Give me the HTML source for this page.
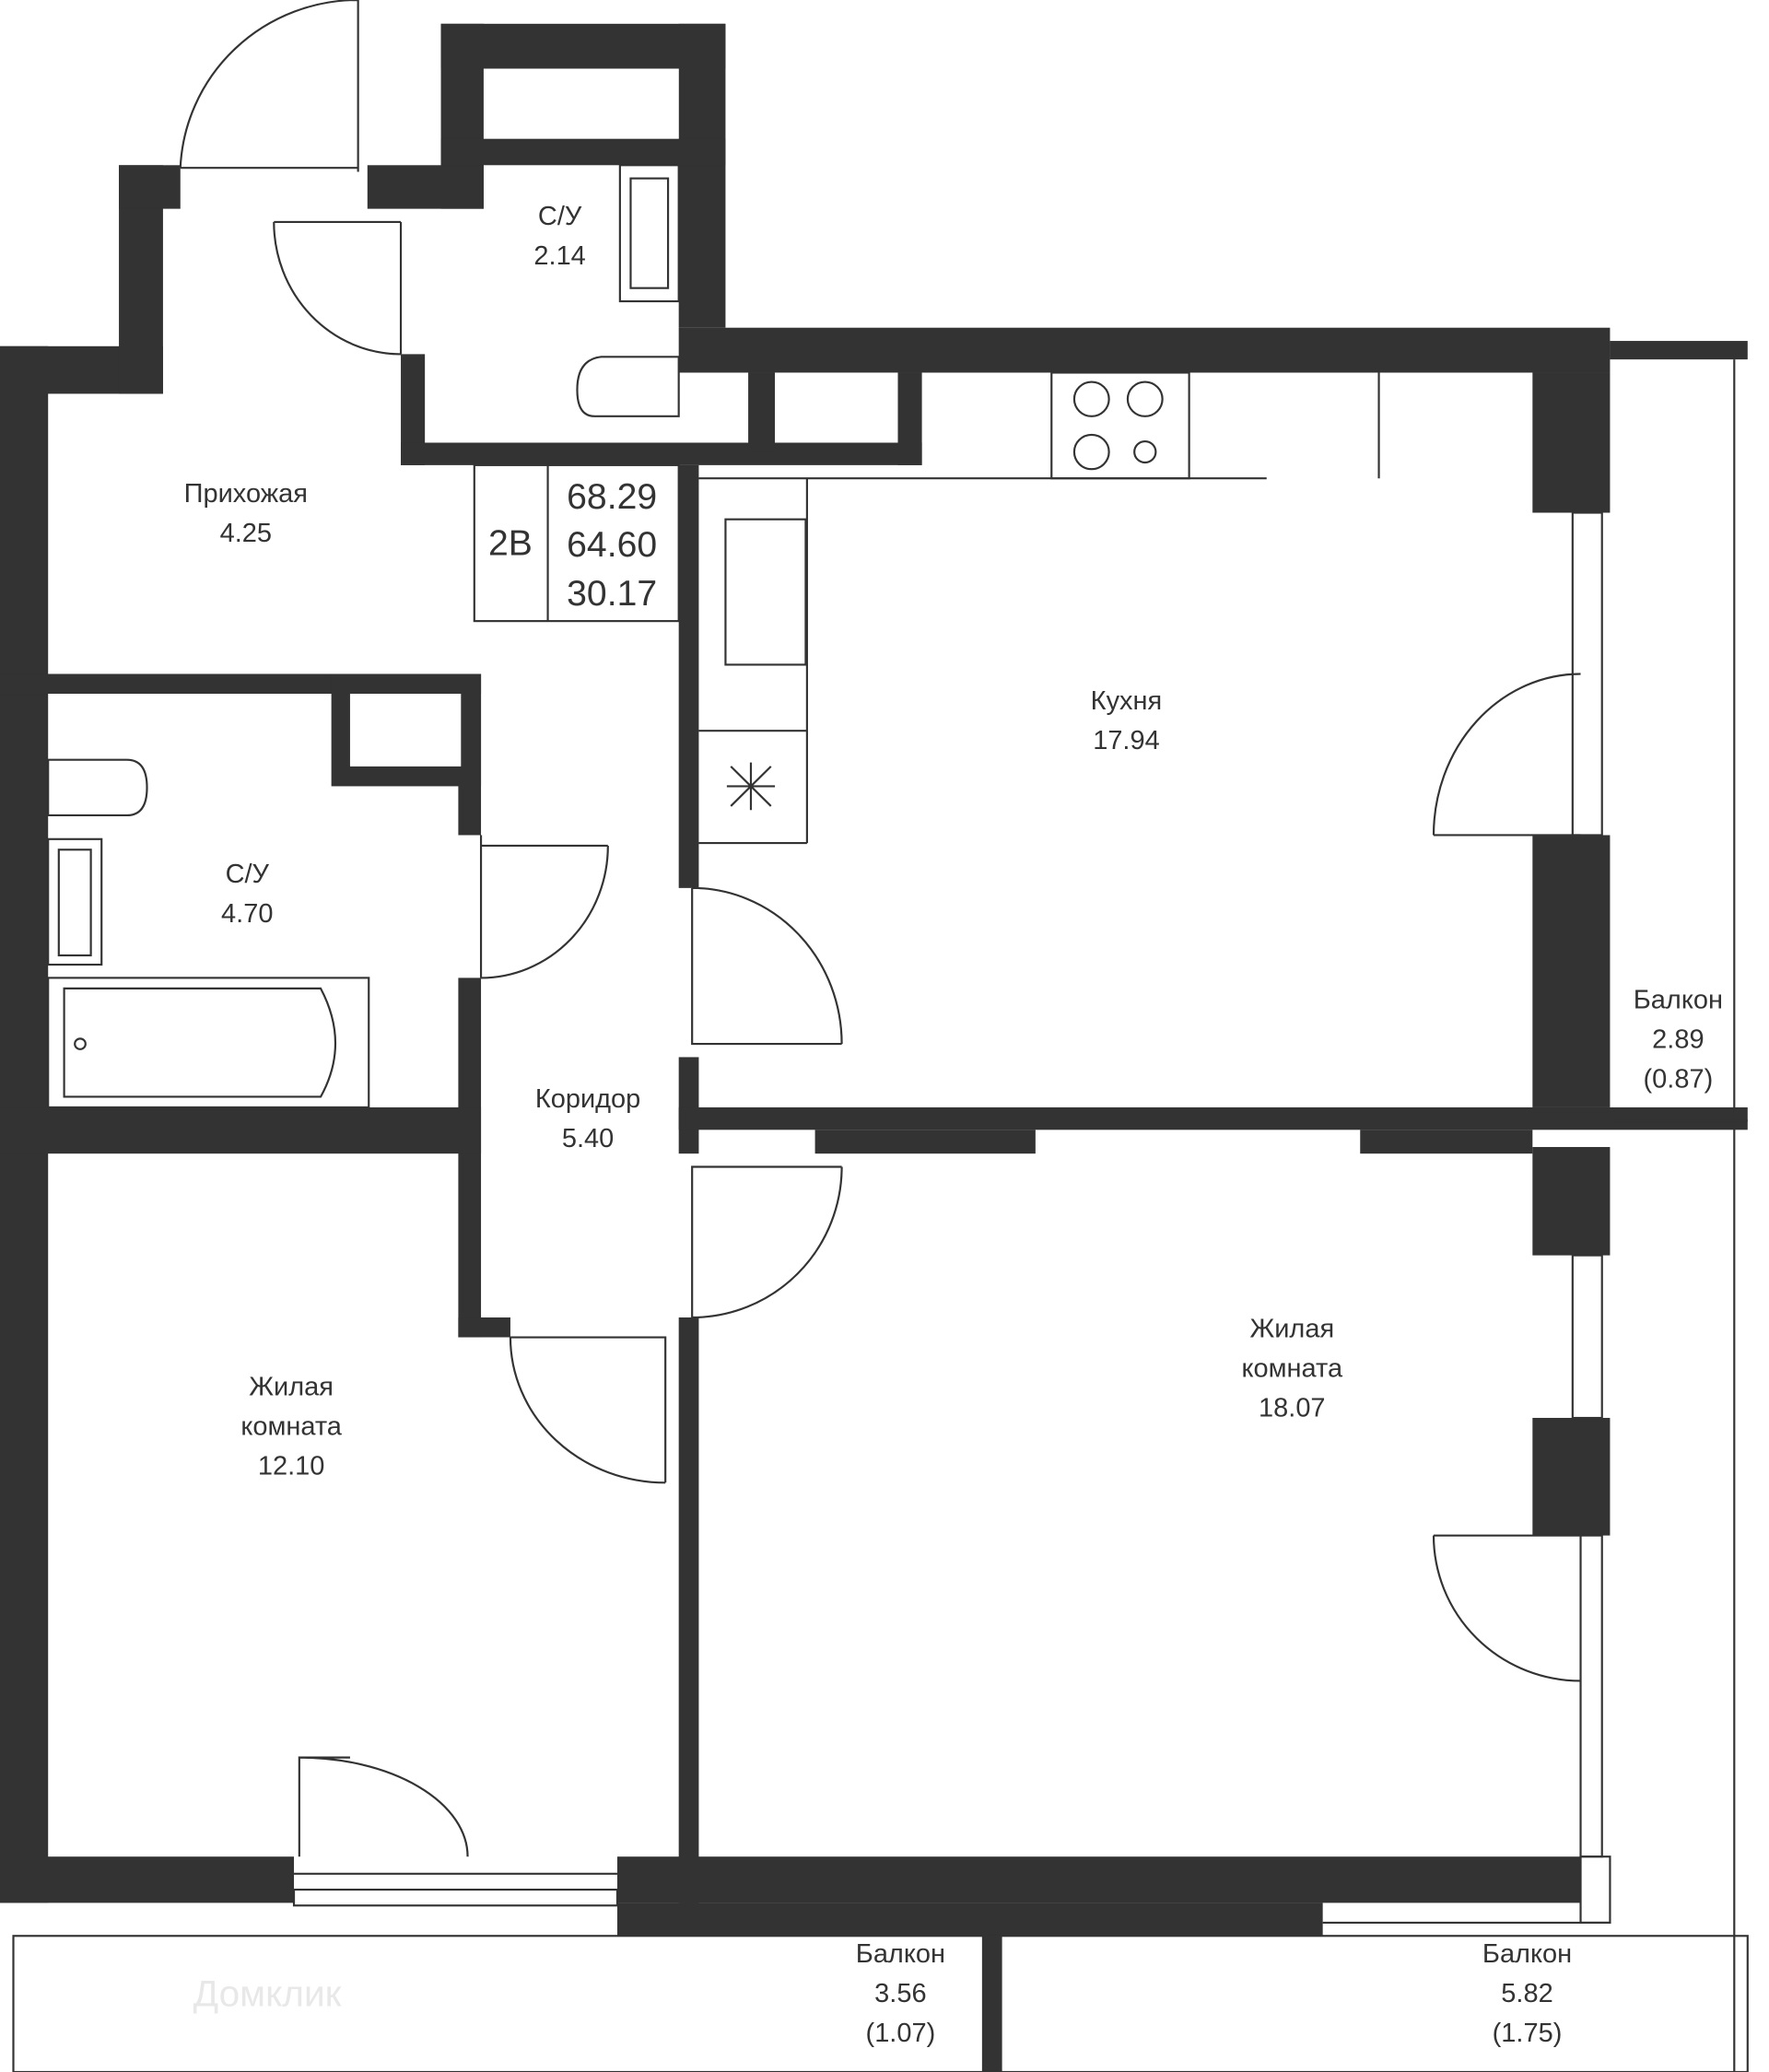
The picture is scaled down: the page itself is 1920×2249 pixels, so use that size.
<!DOCTYPE html>
<html><head><meta charset="utf-8"><style>
html,body{margin:0;padding:0;background:#fff}
svg{display:block}
text{font-family:"Liberation Sans",sans-serif;fill:#333;text-anchor:middle}
</style></head><body>
<svg width="1920" height="2249" viewBox="0 0 1324 1568" preserveAspectRatio="none" xmlns="http://www.w3.org/2000/svg">
<g fill="#333">
<rect x="0" y="262" width="122" height="36"/>
<rect x="89" y="125" width="33" height="173"/>
<rect x="89" y="125" width="46" height="33"/>
<rect x="0" y="262" width="36" height="1178"/>
<rect x="275" y="125" width="87" height="33"/>
<rect x="330" y="18" width="213" height="34"/>
<rect x="330" y="18" width="32" height="140"/>
<rect x="508" y="18" width="35" height="230"/>
<rect x="330" y="105" width="213" height="20"/>
<rect x="300" y="268" width="18" height="84"/>
<rect x="300" y="335" width="390" height="17"/>
<rect x="508" y="248" width="697" height="34"/>
<rect x="1205" y="258" width="103" height="14"/>
<rect x="560" y="282" width="20" height="60"/>
<rect x="672" y="282" width="18" height="70"/>
<rect x="508" y="352" width="15" height="320"/>
<rect x="508" y="800" width="15" height="73"/>
<rect x="508" y="838" width="800" height="17"/>
<rect x="610" y="855" width="165" height="18"/>
<rect x="1018" y="855" width="129" height="18"/>
<rect x="1147" y="282" width="58" height="106"/>
<rect x="1147" y="632" width="58" height="206"/>
<rect x="1147" y="868" width="58" height="82"/>
<rect x="1147" y="1073" width="58" height="89"/>
<rect x="0" y="510" width="360" height="15"/>
<rect x="248" y="510" width="112" height="85"/>
<rect x="343" y="510" width="17" height="122"/>
<rect x="343" y="740" width="17" height="272"/>
<rect x="0" y="838" width="360" height="35"/>
<rect x="343" y="997" width="39" height="15"/>
<rect x="508" y="997" width="15" height="443"/>
<rect x="0" y="1405" width="220" height="35"/>
<rect x="462" y="1405" width="721" height="35"/>
<rect x="462" y="1440" width="528" height="25"/>
<rect x="735" y="1465" width="15" height="103"/>
</g>
<g fill="#fff">
<rect x="362" y="52" width="146" height="53"/>
<rect x="262" y="525" width="83" height="55"/>
<rect x="580" y="282" width="92" height="53"/>
</g>
<g fill="none" stroke="#333" stroke-width="1.5">
<rect x="10" y="1465" width="1298" height="103"/>
<line x1="1298" y1="272" x2="1298" y2="1568"/>
<line x1="1205" y1="848" x2="1308" y2="848"/>
<rect x="1183" y="1405" width="22" height="50"/>
<line x1="990" y1="1455" x2="1205" y2="1455"/>
<rect x="1177" y="388" width="22" height="244"/>
<rect x="1177" y="950" width="22" height="123"/>
<rect x="1183" y="1162" width="16" height="243"/>
<rect x="220" y="1430" width="242" height="12"/>
<line x1="220" y1="1418" x2="462" y2="1418"/>
<path d="M135 127 L268 127 M268 0 L268 130 M135 127 A133 133 0 0 1 268 0"/>
<path d="M300 168 L300 268 M205 168 L300 168 M300 268 A95 100 0 0 1 205 168"/>
<path d="M1073 632 L1183 632 M1183 510 A110 122 0 0 0 1073 632"/>
<path d="M1073 1162 L1183 1162 M1183 1272 A110 110 0 0 1 1073 1162"/>
<path d="M360 740 L360 632 M360 640 L455 640 M360 740 A95 100 0 0 0 455 640"/>
<path d="M518 672 L518 790 L630 790 M518 672 A112 118 0 0 1 630 790"/>
<path d="M518 997 L518 883 L630 883 M518 997 A112 114 0 0 0 630 883"/>
<path d="M382 1012 L498 1012 L498 1122 M382 1012 A116 110 0 0 0 498 1122"/>
<path d="M224 1405 L224 1330 L262 1330 M224 1330 A126 75 0 0 1 350 1405"/>
<rect x="355" y="352" width="153" height="118"/>
<line x1="410" y1="352" x2="410" y2="470"/>
<line x1="523" y1="362" x2="948" y2="362"/>
<rect x="787" y="282" width="103" height="80"/>
<line x1="1032" y1="282" x2="1032" y2="362"/>
<line x1="604" y1="362" x2="604" y2="638"/>
<line x1="523" y1="553" x2="604" y2="553"/>
<line x1="523" y1="638" x2="604" y2="638"/>
<rect x="543" y="393" width="60" height="110"/>
<circle cx="817" cy="302" r="13"/><circle cx="857" cy="302" r="13"/>
<circle cx="817" cy="342" r="13"/><circle cx="857" cy="342" r="8"/>
<path d="M547 580 L577 610 M577 580 L547 610 M562 577 L562 613 M544 595 L580 595"/>
<rect x="464" y="125" width="44" height="103"/><rect x="472" y="135" width="28" height="83"/>
<path d="M508 270 L508 315 L445 315 Q432 315 432 295 Q432 272 450 270 Z"/>
<path d="M36 575 L95 575 Q110 575 110 596 Q110 617 95 617 L36 617 Z"/>
<rect x="36" y="635" width="40" height="95"/><rect x="44" y="643" width="24" height="80"/>
<rect x="36" y="740" width="240" height="98"/>
<path d="M48 748 L240 748 Q262 790 240 830 L48 830 Z"/>
<circle cx="60" cy="790" r="4"/>
</g>
<g font-size="20">
<text x="419" y="170">С/У</text><text x="419" y="200">2.14</text>
<text x="184" y="380">Прихожая</text><text x="184" y="410">4.25</text>
<text x="843" y="537">Кухня</text><text x="843" y="567">17.94</text>
<text x="185" y="668">С/У</text><text x="185" y="698">4.70</text>
<text x="440" y="838">Коридор</text><text x="440" y="868">5.40</text>
<text x="967" y="1012">Жилая</text><text x="967" y="1042">комната</text><text x="967" y="1072">18.07</text>
<text x="218" y="1056">Жилая</text><text x="218" y="1086">комната</text><text x="218" y="1116">12.10</text>
<text x="1256" y="763">Балкон</text><text x="1256" y="793">2.89</text><text x="1256" y="823">(0.87)</text>
<text x="674" y="1485">Балкон</text><text x="674" y="1515">3.56</text><text x="674" y="1545">(1.07)</text>
<text x="1143" y="1485">Балкон</text><text x="1143" y="1515">5.82</text><text x="1143" y="1545">(1.75)</text>
</g>
<g font-size="27">
<text x="382" y="420">2В</text>
<text x="458" y="385">68.29</text><text x="458" y="421">64.60</text><text x="458" y="458">30.17</text>
</g>
<text x="200" y="1518" font-size="28" style="fill:#e8e8e8">Домклик</text>
</svg>
</body></html>
